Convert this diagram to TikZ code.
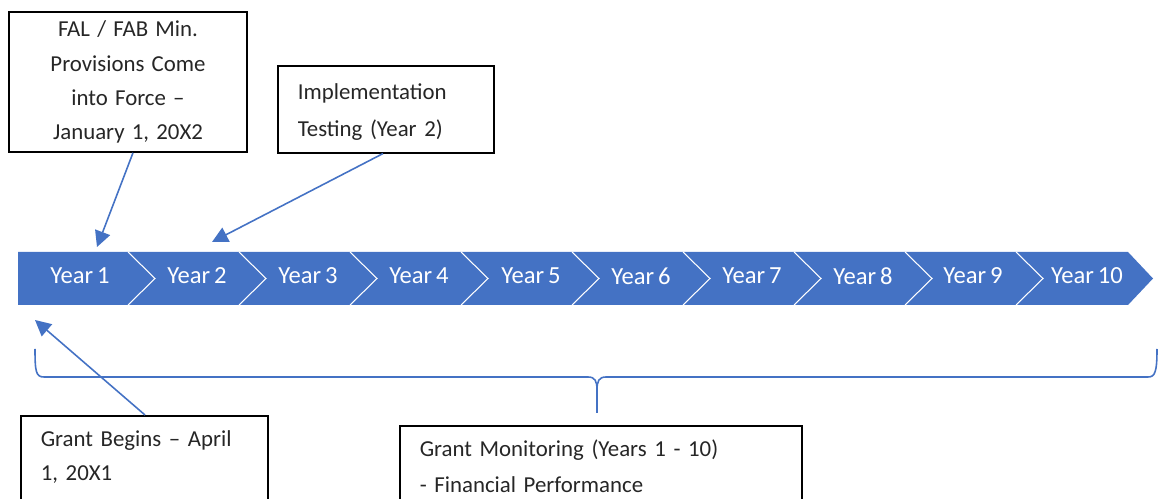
\documentclass[tikz,border=0pt]{standalone}
\usepackage{fontspec}
\setmainfont{Carlito}
\newfontfamily\boxfont{Carlito}[WordSpace=1.4, Ligatures=TeX]
\usepackage{xcolor}
\usetikzlibrary{calc,positioning,arrows.meta}

\definecolor{chevblue}{HTML}{4472C4}
\definecolor{boxtext}{HTML}{262626}

\tikzset{
  yearlabel/.style={text=white, font=\fontsize{14}{16}\selectfont, inner sep=0pt},
  notebox/.style={draw=black, line width=0.9pt, text=boxtext, font=\boxfont\fontsize{13}{19.4}\selectfont},
  leftbox/.style={notebox, anchor=north west, align=left, inner xsep=0.4cm, inner ysep=0.2cm, text height=0.42cm},
  pointer/.style={draw=chevblue, line width=0.9pt, -{Triangle[length=9pt,width=9pt]}},
}

\begin{document}
\begin{tikzpicture}[x=0.02cm, y=-0.02cm]
		\useasboundingbox (0,0) rectangle (1159,499);
		
		% Timeline bar
		\fill[chevblue] (18,252) -- (1128,252) -- (1153,278.5) -- (1128,305) -- (18,305) -- cycle;
		\foreach \k in {0,...,8}
			\draw[white, line width=0.6pt] (128+111*\k,252) -- ++(27,26.5) -- ++(-27,26.5);
		
		% Year labels
		\foreach \x [count=\i] in {80,197,308,419,531,641,752,863,973,1087}
			\node[yearlabel] (year\i) at (\x,276) {Year\,\i};
		
		% Boxes
		\node[notebox, minimum width=4.76cm, minimum height=2.8cm, align=center, inner sep=0pt] (fal) at (128,82)
			{FAL / FAB Min.\\ Provisions Come\\ into Force –\\ January 1, 20X2};
		\node[leftbox, text width=3.52cm, minimum height=1.74cm] (impl) at (277,65)
			{Implementation\\[0.06cm] Testing (Year 2)};
		\node[leftbox, text width=4.14cm, text depth=2cm] (begins) at (20,415)
			{Grant Begins – April\\ 1, 20X1};
		\node[leftbox, text width=7.24cm, text depth=2cm] (monitor) at (399,425)
			{Grant Monitoring (Years 1 - 10)\\[0.04cm] - Financial Performance};
		
		% Arrow tips
		\coordinate (tip1) at (97,247);
		\coordinate (tip2) at (212,242);
		\coordinate (tip3) at (35,320);
		
		\draw[pointer] (fal.south -| 133,0) -- (tip1);
		\draw[pointer] (impl.south -| 383,0) -- (tip2);
		\draw[pointer] (begins.north -| 145,0) -- (tip3);
		
		% Brace
		\coordinate (cusp) at (597,413);
		\draw[chevblue, line width=0.9pt] (35,349) .. controls (35,372) and (36,377) .. (44,377) -- (588,377)
			.. controls (595,377) and (597,381) .. (597,390) -- (cusp);
		\draw[chevblue, line width=0.9pt] (597,390) .. controls (597,381) and (599,377) .. (606,377) -- (1148,377)
			.. controls (1155,377) and (1157,372) .. (1157,349);
	\end{tikzpicture}
\end{document}
